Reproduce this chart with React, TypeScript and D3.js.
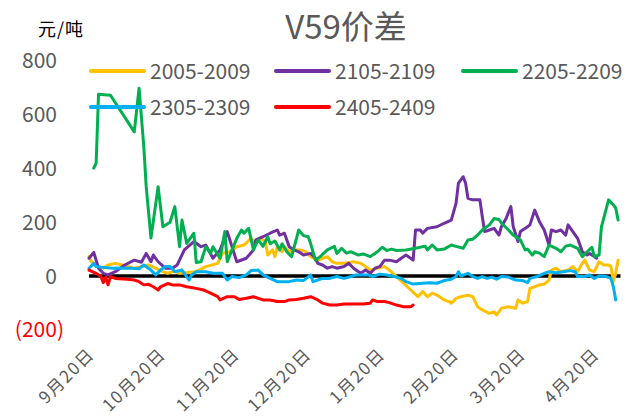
import React from "react";
import * as d3 from "d3";

// V59 spread, season view (Sep 20 -> Apr 30)
const seriesNames = ["2005-2009", "2105-2109", "2205-2209", "2305-2309", "2405-2409"];
const seriesColors = ["#FFC000", "#7030A0", "#00B050", "#00B0F0", "#FF0000"];
const yTicks = [800, 600, 400, 200, 0, -200];
const xTickDays = ["9/20", "10/20", "11/20", "12/20", "1/20", "2/20", "3/20", "4/20"];
const xTickLabels = ["9月20日", "10月20日", "11月20日", "12月20日", "1月20日", "2月20日", "3月20日", "4月20日"];
const axisStart = "9/20";
const axisEnd = "5/1";

const s2005: [string, number][] = [
  ["9/20", 72], ["9/21", 53], ["9/24", 35], ["9/26", 29], ["9/28", 41], ["10/1", 47], ["10/4", 41],
  ["10/9", 29], ["10/15", 41], ["10/21", 16], ["10/23", 10], ["10/26", 18], ["10/28", 10], ["11/4", 16],
  ["11/8", 35], ["11/13", 47], ["11/15", 84], ["11/18", 90], ["11/21", 109], ["11/24", 115], ["11/27", 140],
  ["11/29", 121], ["12/1", 140], ["12/3", 128], ["12/4", 78], ["12/6", 97], ["12/7", 72], ["12/8", 109],
  ["12/10", 90], ["12/11", 109], ["12/13", 90], ["12/15", 97], ["12/18", 97], ["12/20", 90], ["12/22", 72],
  ["12/25", 59], ["12/27", 66], ["12/29", 72], ["12/31", 53], ["1/2", 47], ["1/5", 47], ["1/9", 53],
  ["1/12", 47], ["1/14", 35], ["1/16", 22], ["1/19", 29], ["1/22", 35], ["1/24", 22], ["1/27", -2],
  ["1/30", -27], ["2/2", -52], ["2/5", -77], ["2/7", -58], ["2/9", -77], ["2/11", -64], ["2/13", -71],
  ["2/16", -89], ["2/18", -95], ["2/19", -101], ["2/21", -83], ["2/23", -77], ["2/26", -71], ["2/28", -77],
  ["3/2", -114], ["3/4", -126], ["3/7", -139], ["3/9", -133], ["3/10", -145], ["3/12", -120], ["3/15", -114],
  ["3/18", -120], ["3/19", -89], ["3/21", -101], ["3/23", -95], ["3/24", -46], ["3/26", -40], ["3/28", -33],
  ["3/30", -30], ["4/1", -15], ["4/2", 22], ["4/4", 29], ["4/6", 16], ["4/9", 22], ["4/11", 35],
  ["4/13", 16], ["4/15", 47], ["4/16", 59], ["4/18", 22], ["4/20", 16], ["4/22", 53], ["4/24", 41],
  ["4/26", 41], ["4/27", 35], ["4/28", -21], ["4/29", 10], ["4/30", 59],
];

const s2105: [string, number][] = [
  ["9/20", 66], ["9/22", 88], ["9/24", 29], ["9/26", 10], ["9/28", 4], ["10/1", 16], ["10/5", 41],
  ["10/9", 59], ["10/12", 51], ["10/14", 84], ["10/16", 53], ["10/17", 78], ["10/19", 53], ["10/22", 29],
  ["10/25", 29], ["10/27", 41], ["10/30", 97], ["11/3", 128], ["11/6", 109], ["11/8", 115], ["11/11", 66],
  ["11/14", 97], ["11/17", 165], ["11/21", 53], ["11/25", 66], ["11/28", 97], ["11/29", 134], ["12/2", 146],
  ["12/5", 159], ["12/8", 171], ["12/9", 152], ["12/11", 159], ["12/12", 134], ["12/13", 109], ["12/15", 97],
  ["12/17", 90], ["12/19", 78], ["12/22", 84], ["12/24", 66], ["12/25", 47], ["12/27", 41], ["12/29", 29],
  ["12/31", 35], ["1/2", 29], ["1/5", 35], ["1/7", 47], ["1/9", 29], ["1/12", 10], ["1/14", 22],
  ["1/16", 10], ["1/18", 29], ["1/20", 35], ["1/22", 59], ["1/24", 59], ["1/27", 53], ["1/29", 66],
  ["1/31", 78], ["2/3", 59], ["2/4", 171], ["2/6", 171], ["2/7", 159], ["2/9", 177], ["2/13", 183],
  ["2/16", 196], ["2/19", 208], ["2/21", 270], ["2/22", 345], ["2/23", 357], ["2/24", 369], ["2/25", 345],
  ["2/26", 289], ["2/28", 283], ["3/3", 283], ["3/4", 221], ["3/5", 165], ["3/7", 171], ["3/9", 177],
  ["3/11", 152], ["3/12", 183], ["3/14", 214], ["3/16", 258], ["3/17", 183], ["3/19", 128], ["3/20", 165],
  ["3/23", 183], ["3/24", 190], ["3/26", 245], ["3/28", 202], ["3/30", 171], ["4/1", 115], ["4/2", 171],
  ["4/4", 165], ["4/6", 171], ["4/8", 152], ["4/9", 190], ["4/11", 165], ["4/13", 140], ["4/15", 90],
  ["4/17", 78], ["4/18", 84], ["4/20", 72], ["4/21", 66],
];

const s2205: [string, number][] = [
  ["9/22", 401], ["9/23", 420], ["9/24", 676], ["9/29", 672], ["10/9", 536], ["10/11", 698], ["10/13", 480],
  ["10/14", 332], ["10/16", 141], ["10/19", 332], ["10/21", 183], ["10/24", 200], ["10/26", 258], ["10/28", 109],
  ["10/29", 208], ["10/31", 121], ["11/3", 159], ["11/4", 50], ["11/6", 53], ["11/8", 109], ["11/10", 84],
  ["11/11", 109], ["11/14", 66], ["11/16", 165], ["11/17", 53], ["11/21", 140], ["11/23", 171], ["11/24", 159],
  ["11/26", 177], ["11/28", 97], ["11/30", 134], ["12/2", 110], ["12/4", 146], ["12/5", 120], ["12/7", 130],
  ["12/9", 97], ["12/10", 120], ["12/12", 90], ["12/14", 72], ["12/17", 171], ["12/19", 150], ["12/21", 146],
  ["12/22", 120], ["12/24", 59], ["12/26", 72], ["12/29", 97], ["1/1", 110], ["1/2", 84], ["1/4", 103],
  ["1/6", 85], ["1/8", 90], ["1/11", 78], ["1/13", 82], ["1/16", 72], ["1/19", 90], ["1/21", 107],
  ["1/23", 95], ["1/25", 100], ["1/27", 95], ["1/31", 97], ["2/4", 103], ["2/8", 111], ["2/9", 97],
  ["2/11", 115], ["2/13", 97], ["2/16", 100], ["2/19", 115], ["2/21", 110], ["2/24", 103], ["2/26", 134],
  ["2/28", 137], ["3/2", 152], ["3/4", 171], ["3/7", 190], ["3/9", 214], ["3/11", 210], ["3/12", 197],
  ["3/15", 171], ["3/17", 152], ["3/20", 134], ["3/22", 97], ["3/23", 100], ["3/25", 78], ["3/26", 90],
  ["3/28", 85], ["3/30", 72], ["4/1", 115], ["4/4", 103], ["4/6", 90], ["4/8", 111], ["4/10", 115],
  ["4/13", 103], ["4/15", 72], ["4/17", 90], ["4/19", 107], ["4/20", 72], ["4/22", 78], ["4/23", 183],
  ["4/26", 283], ["4/28", 264], ["4/29", 252], ["4/30", 208],
];

const s2305: [string, number][] = [
  ["9/20", 29], ["9/22", 47], ["9/23", 35], ["9/25", 33], ["9/30", 29], ["10/2", 30], ["10/8", 29],
  ["10/11", 27], ["10/13", 41], ["10/16", 22], ["10/18", 4], ["10/20", 22], ["10/22", 35], ["10/24", 35],
  ["10/26", 16], ["10/29", 22], ["11/1", -15], ["11/2", 4], ["11/4", 16], ["11/8", 16], ["11/11", 10],
  ["11/15", 10], ["11/17", -15], ["11/19", -2], ["11/22", -6], ["11/25", 4], ["11/27", 20], ["11/30", 22],
  ["12/2", 4], ["12/5", -9], ["12/8", -21], ["12/11", -21], ["12/13", -21], ["12/16", -15], ["12/19", -17],
  ["12/22", 4], ["12/23", -21], ["12/25", -15], ["12/27", -9], ["12/30", -9], ["1/2", -2], ["1/5", -9],
  ["1/8", -2], ["1/10", 4], ["1/15", 4], ["1/17", -2], ["1/20", 7], ["1/23", 4], ["1/26", -2],
  ["1/29", -9], ["1/31", -21], ["2/3", -30], ["2/7", -27], ["2/10", -25], ["2/13", -27], ["2/16", -17],
  ["2/19", -12], ["2/21", -2], ["2/22", 16], ["2/23", 0], ["2/26", 10], ["2/28", -2], ["3/2", -9],
  ["3/4", -2], ["3/6", -9], ["3/8", -4], ["3/10", -12], ["3/12", -2], ["3/15", -4], ["3/18", -15],
  ["3/21", -17], ["3/23", -25], ["3/24", -9], ["3/27", -2], ["3/30", 10], ["4/1", 16], ["4/4", 12],
  ["4/7", 16], ["4/10", 20], ["4/12", 16], ["4/13", -2], ["4/16", -2], ["4/18", 4], ["4/20", -9],
  ["4/22", 0], ["4/25", -2], ["4/27", -9], ["4/28", -40], ["4/29", -89],
];

const s2405: [string, number][] = [
  ["9/20", 22], ["9/23", 10], ["9/25", -2], ["9/26", -25], ["9/27", -5], ["9/28", -33], ["9/29", -2],
  ["10/1", -9], ["10/6", -12], ["10/9", -15], ["10/11", -21], ["10/13", -33], ["10/15", -31], ["10/17", -40],
  ["10/18", -46], ["10/19", -52], ["10/20", -40], ["10/23", -28], ["10/25", -33], ["10/28", -33], ["10/31", -40],
  ["11/4", -46], ["11/7", -52], ["11/10", -64], ["11/13", -77], ["11/14", -89], ["11/17", -77], ["11/20", -77],
  ["11/22", -87], ["11/25", -83], ["11/28", -77], ["12/2", -89], ["12/5", -89], ["12/8", -95], ["12/11", -95],
  ["12/13", -89], ["12/16", -87], ["12/19", -83], ["12/22", -77], ["12/25", -89], ["12/27", -101], ["12/30", -108],
  ["1/2", -108], ["1/5", -104], ["1/8", -104], ["1/10", -104], ["1/13", -104], ["1/16", -101], ["1/17", -89],
  ["1/19", -95], ["1/22", -95], ["1/24", -99], ["1/27", -108], ["1/30", -114], ["2/2", -114], ["2/3", -108],
];

const seriesData = [s2005, s2105, s2205, s2305, s2405];

function parseDay(md: string): Date {
  const [m, d] = md.split("/").map(Number);
  return new Date(m >= 9 ? 2022 : 2023, m - 1, d);
}

const fmt = (v: number) => (v < 0 ? `(${Math.abs(v)})` : `${v}`);

const FONT = "'Noto Sans CJK SC', 'Noto Sans', sans-serif";
const GREY = "#595959";

function App() {
  const width = 640;
  const height = 419;

  const x = d3
    .scaleTime()
    .domain([parseDay(axisStart), parseDay(axisEnd)])
    .range([89, 620.5]);

  const y = d3.scaleLinear().domain([-200, 800]).range([329.8, 60.8]);

  const line = d3
    .line<[string, number]>()
    .x((d) => x(parseDay(d[0])))
    .y((d) => y(d[1]));

  // legend: 3 per row
  const legendCols = [91, 276, 463];
  const legendRows = [71, 107];

  return (
    <div style={{ position: "absolute", left: 0, top: 0 }}>
      <svg width={width} height={height} style={{ display: "block", background: "#fff" }}>
        <text x={346} y={39} textAnchor="middle" fontFamily={FONT} fontSize={33} fill={GREY}>
          V59价差
        </text>
        <text x={38} y={36} fontFamily={FONT} fontSize={18} fill="#000" letterSpacing={1}>
          元/吨
        </text>

        {yTicks.map((t) => (
          <text
            key={t}
            x={t < 0 ? 64 : 57}
            y={y(t)}
            dy="0.36em"
            textAnchor="end"
            fontFamily={FONT}
            fontSize={21}
            fill={t < 0 ? "#FF0000" : GREY}
          >
            {fmt(t)}
          </text>
        ))}

        {xTickDays.map((d, i) => (
          <text
            key={d}
            transform={`translate(${x(parseDay(d)) + 2},${351}) rotate(-45)`}
            textAnchor="end"
            dy="0.36em"
            fontFamily={FONT}
            fontSize={17}
            letterSpacing={1.5}
            fill={GREY}
          >
            {xTickLabels[i]}
          </text>
        ))}

        <line
          x1={x(parseDay(axisStart))}
          x2={x(parseDay(axisEnd))}
          y1={y(0)}
          y2={y(0)}
          stroke="#000"
          strokeWidth={3.5}
        />

        {seriesData.map((s, i) => (
          <path
            key={seriesNames[i]}
            d={line(s) ?? ""}
            fill="none"
            stroke={seriesColors[i]}
            strokeWidth={3}
            strokeLinejoin="round"
            strokeLinecap="round"
          />
        ))}

        {seriesNames.map((name, i) => {
          const lx = legendCols[i % 3];
          const ly = legendRows[Math.floor(i / 3)];
          return (
            <g key={name}>
              <line x1={lx} x2={lx + 53} y1={ly} y2={ly} stroke={seriesColors[i]} strokeWidth={4} strokeLinecap="round" />
              <text x={lx + 59} y={ly} dy="0.36em" fontFamily={FONT} fontSize={21} fill={GREY}>
                {name}
              </text>
            </g>
          );
        })}
      </svg>
    </div>
  );
}

export default App;
